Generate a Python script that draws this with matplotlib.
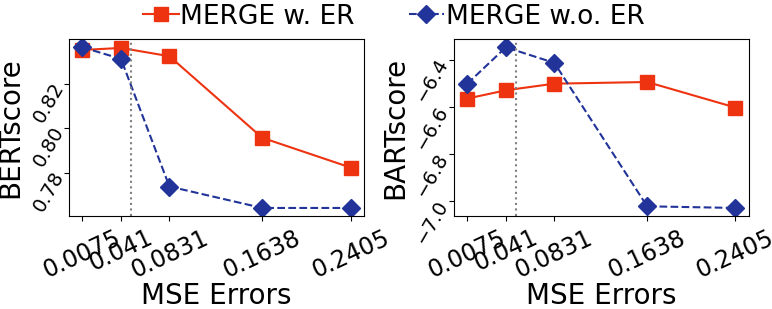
import matplotlib
matplotlib.use("Agg")
import matplotlib.pyplot as plt

# MSE error levels on the x axis
mse = [0.0075, 0.041, 0.0831, 0.1638, 0.2405]
mse_labels = ["0.0075", "0.041", "0.0831", "0.1638", "0.2405"]

# BERTscore
bert_w_er = [0.8351, 0.8360, 0.8323, 0.7958, 0.7825]
bert_wo_er = [0.8363, 0.8311, 0.7740, 0.7644, 0.7644]

# BARTscore
bart_w_er = [-6.565, -6.530, -6.502, -6.495, -6.603]
bart_wo_er = [-6.502, -6.348, -6.414, -7.021, -7.028]

RED = "#EE3311"
BLUE = "#223399"
VLINE_X = 0.05

fig = plt.figure(figsize=(7.72, 3.09), dpi=100)
ax1 = fig.add_axes([0.0894, 0.301, 0.382, 0.572])
ax2 = fig.add_axes([0.588, 0.301, 0.382, 0.572])

panels = [
    (ax1, bert_w_er, bert_wo_er, "BERTscore", [0.78, 0.80, 0.82], ["0.78", "0.80", "0.82"]),
    (ax2, bart_w_er, bart_wo_er, "BARTscore", [-7.0, -6.8, -6.6, -6.4],
     ["\u22127.0", "\u22126.8", "\u22126.6", "\u22126.4"]),
]

for ax, w_er, wo_er, ylabel, yticks, ylabels in panels:
    l1, = ax.plot(mse, w_er, color=RED, marker="s", ms=10, lw=1.5)
    l2, = ax.plot(mse, wo_er, color=BLUE, marker="D", ms=9, lw=1.5, ls="--")
    ax.axvline(VLINE_X, color="0.5", lw=1.5, ls=":")
    ax.set_xticks(mse)
    ax.set_xticklabels(mse_labels, rotation=25, fontsize=17)
    ax.set_yticks(yticks)
    ax.set_yticklabels(ylabels, rotation=60, fontsize=14,
                       rotation_mode="anchor", ha="right", va="center")
    ax.set_xlabel("MSE Errors", fontsize=20)
    ax.set_ylabel(ylabel, fontsize=20)
    ax.xaxis.set_label_coords(0.5, -0.375)
    ax.yaxis.set_label_coords(-0.152, 0.5)

fig.legend([l1, l2], ["MERGE w. ER", "MERGE w.o. ER"], loc="upper center",
           bbox_to_anchor=(0.51, 1.065), ncol=2, frameon=False, fontsize=19,
           handlelength=1.35, handletextpad=0.05, columnspacing=2.05)

fig.savefig("out.png", dpi=100)
